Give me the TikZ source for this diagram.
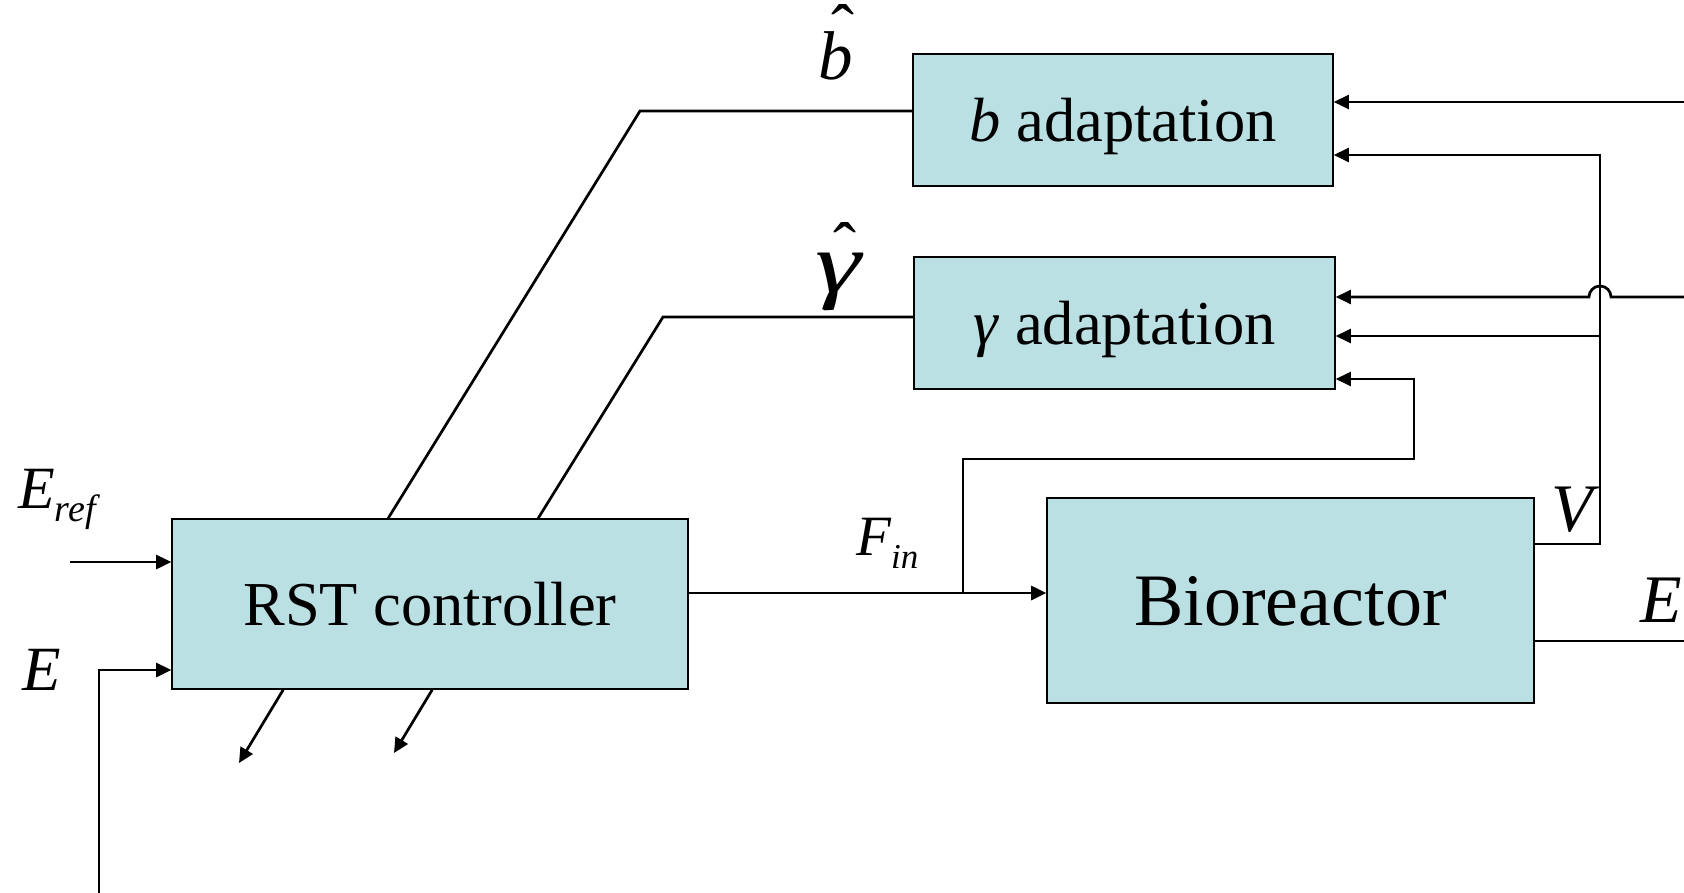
\documentclass[tikz,border=0pt]{standalone}
\usepackage{fontspec}
\setmainfont{Liberation Serif}
\usetikzlibrary{arrows.meta,calc}
\definecolor{boxfill}{RGB}{187,224,227}
\newcommand\lblhat[3]{\ooalign{#1\cr\hidewidth\kern#3{\fontsize{69}{70}\selectfont\upshape\raisebox{#2}{\char"02C6}}\hidewidth\cr}}
\begin{document}
\begin{tikzpicture}[x=1pt,y=-1pt,
  blk/.style={draw=black, line width=1.6pt, fill=boxfill, inner sep=0pt, text depth=0pt, font=\fontsize{62.5}{70}\selectfont},
  wire/.style={line width=2.7pt},
  arr/.style={wire,-{Triangle[length=15pt,width=14pt]}},
  lbl/.style={inner sep=0pt, anchor=base west}]
\useasboundingbox (0,0) rectangle (1684,893);
% blocks
\node[blk, minimum width=516pt, minimum height=170pt] (rst) at (430,604) {RST controller};
\node[blk, minimum width=487pt, minimum height=205pt, font=\fontsize{74}{80}\selectfont] (bio) at (1290.5,600.5) {Bioreactor};
\node[blk, minimum width=420pt, minimum height=132pt] (badapt) at (1123,120) {\textit{b} adaptation};
\node[blk, minimum width=421pt, minimum height=132pt] (gadapt) at (1124.5,323) {\textit{γ} adaptation};
% labels
\node[lbl, font=\fontsize{60}{64}\selectfont\itshape] (leref) at (18,508) {E\raisebox{-13pt}{\fontsize{38}{40}\selectfont ref}};
\node[lbl, font=\fontsize{63}{66}\selectfont\itshape] (le) at (22,690) {E};
\node[lbl, font=\fontsize{57}{60}\selectfont\itshape] (lfin) at (856,555) {F\raisebox{-13pt}{\fontsize{35}{38}\selectfont in}};
\node[lbl, anchor=base, font=\fontsize{68}{70}\selectfont\itshape] (lv) at (1572,531) {V};
\node[lbl, font=\fontsize{68}{70}\selectfont\itshape] (leo) at (1640,622) {E};
\node[lbl, anchor=base, font=\fontsize{69}{70}\selectfont\itshape] (lbhat) at (836,80) {\lblhat{b}{27pt}{14pt}};
\node[lbl, anchor=base, font=\fontsize{86}{96}\selectfont\itshape] (lghat) at (838,293) {\lblhat{\scalebox{1.35}[1]{γ}}{22pt}{14pt}};
% coordinates
\coordinate (erefL) at (70,562);
\coordinate (eB) at (99,893);
\coordinate (eC) at (99,670);
\coordinate (k1) at (640,111);
\coordinate (k2) at (663,317);
\coordinate (d1) at (239,763);
\coordinate (d2) at (394,753);
\coordinate (fin) at ([yshift=11pt]rst.east);
\coordinate (tap) at (963,459);
\coordinate (tc) at (1414,459);
\coordinate (g3) at ([yshift=-56pt]gadapt.east);
\coordinate (vout) at ([yshift=56.5pt]bio.east);
\coordinate (vtop) at (1600,155);
\coordinate (b2) at ([yshift=-35pt]badapt.east);
\coordinate (g2) at ([yshift=-13pt]gadapt.east);
\coordinate (r1) at (1684,102);
\coordinate (r2) at (1684,297);
\coordinate (hop) at (1611,297);
\coordinate (g1) at ([yshift=26pt]gadapt.east);
\coordinate (eo) at (1684,641);
% connectors
\draw[arr] (erefL) -- (erefL -| rst.west);
\draw[arr] (eB) -- (eC) -- (eC -| rst.west);
\draw[wire] ([xshift=217pt]rst.north west) -- (k1) -- (k1 -| badapt.west);
\draw[wire] ([xshift=367pt]rst.north west) -- (k2) -- (k2 -| gadapt.west);
\draw[arr] ([xshift=112pt]rst.south west) -- (d1);
\draw[arr] ([xshift=261pt]rst.south west) -- (d2);
\draw[arr] (fin) -- (fin -| bio.west);
\draw[arr] (tap |- fin) -- (tap) -- (tc) -- (tc |- g3) -- (g3);
\draw[arr] (vout) -- (vout -| vtop) -- (vtop) -- (b2);
\draw[arr] (g2 -| vtop) -- (g2);
\draw[arr] (r1) -- (r1 -| badapt.east);
\draw[arr] (r2) -- (hop) arc[start angle=0, end angle=180, radius=11pt] -- (g1);
\draw[wire] (bio.east |- eo) -- (eo);
\end{tikzpicture}
\end{document}
